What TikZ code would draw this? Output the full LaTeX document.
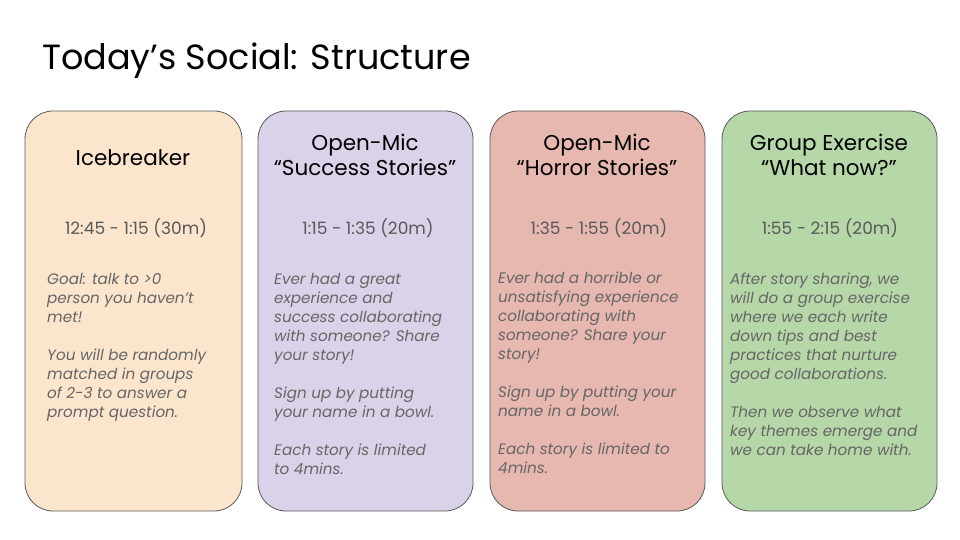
\documentclass[tikz,border=0pt]{standalone}
\usepackage{fontspec}
\setmainfont{Poppins}
\definecolor{cA}{HTML}{FCE5CD}
\definecolor{cB}{HTML}{D9D2E9}
\definecolor{cC}{HTML}{E6B8AF}
\definecolor{cD}{HTML}{B6D7A8}
\definecolor{bd}{HTML}{595959}
\definecolor{tx}{HTML}{666666}
\begin{document}
\begin{tikzpicture}[x=1pt,y=-1pt,
 card/.style={draw=bd,line width=0.8pt,rounded corners=28pt},
 head/.style={font=\fontsize{21.5}{25.5}\selectfont,align=center,text=black,anchor=center},
 tm/.style={font=\fontsize{17}{20}\selectfont,text=bd,anchor=center},
 bodytxt/.style={font=\fontsize{15.2}{19}\selectfont\itshape,text=tx,align=left,anchor=north west,inner sep=0pt}]
\useasboundingbox (0,0) rectangle (960,540);
\node[anchor=west,inner sep=0pt,font=\fontsize{35}{40}\selectfont] (title) at (42,61) {Today’s Social: Structure};
\filldraw[card,fill=cA] (25,111) rectangle (242,511);
\filldraw[card,fill=cB] (258,111) rectangle (473,511);
\filldraw[card,fill=cC] (490,111) rectangle (705,511);
\filldraw[card,fill=cD] (722,111) rectangle (937,511);
\node[head] (h1) at (133,158) {Icebreaker};
\node[head] (h2) at (365,155) {Open-Mic\\“Success Stories”};
\node[head] (h3) at (597,155) {Open-Mic\\“Horror Stories”};
\node[head] (h4) at (829,155) {Group Exercise\\“What now?”};
\node[tm] (t1) at (136,228) {12:45 - 1:15 (30m)};
\node[tm] (t2) at (368,228) {1:15 - 1:35 (20m)};
\node[tm] (t3) at (599,228) {1:35 - 1:55 (20m)};
\node[tm] (t4) at (830,228) {1:55 - 2:15 (20m)};
\node[bodytxt] (b1) at (47,273) {Goal: talk to >0\\person you haven’t\\met!\\[19pt]You will be randomly\\matched in groups\\of 2-3 to answer a\\prompt question.};
\node[bodytxt] (b2) at (274,273) {Ever had a great\\experience and\\success collaborating\\with someone? Share\\your story!\\[19pt]Sign up by putting\\your name in a bowl.\\[19pt]Each story is limited\\to 4mins.};
\node[bodytxt] (b3) at (498,272) {Ever had a horrible or\\unsatisfying experience\\collaborating with\\someone? Share your\\story!\\[19pt]Sign up by putting your\\name in a bowl.\\[19pt]Each story is limited to\\4mins.};
\node[bodytxt] (b4) at (730,273) {After story sharing, we\\will do a group exercise\\where we each write\\down tips and best\\practices that nurture\\good collaborations.\\[19pt]Then we observe what\\key themes emerge and\\we can take home with.};
\end{tikzpicture}
\end{document}
